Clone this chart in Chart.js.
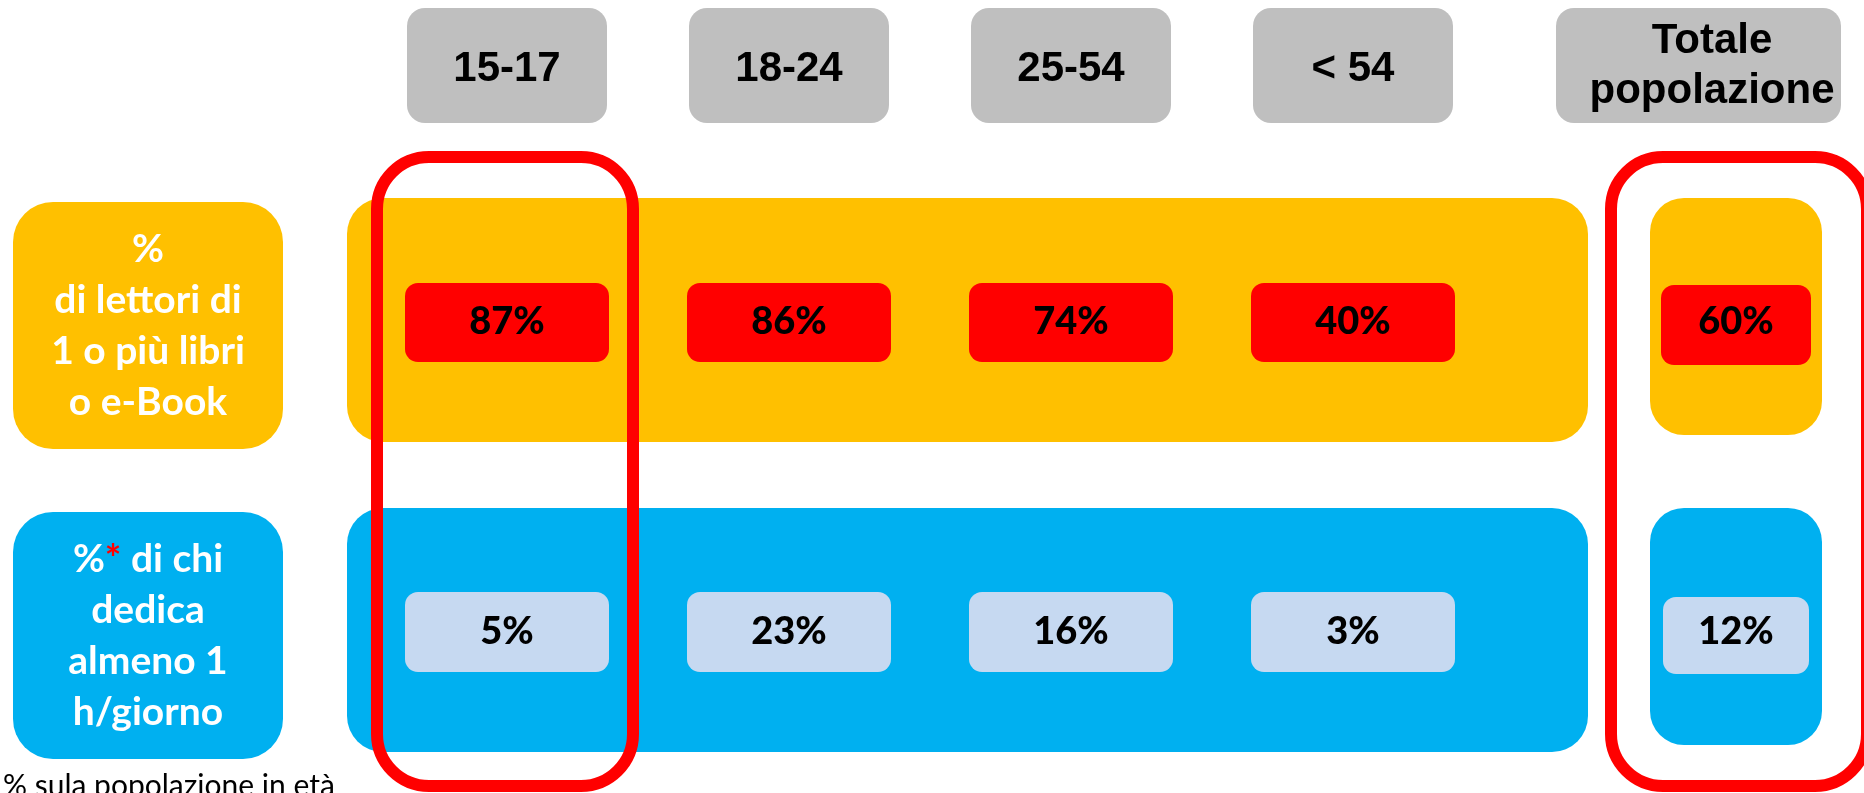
<!DOCTYPE html>
<html>
<head>
<meta charset="utf-8">
<script src="https://cdn.jsdelivr.net/npm/chart.js@4.4.1/dist/chart.umd.min.js"></script>
<style>
html, body { margin: 0; padding: 0; background: #ffffff; }
#wrap { position: relative; width: 1864px; height: 793px; overflow: hidden; }
#eta { position: absolute; left: 0; top: 0; }
#tot { position: absolute; left: 1540px; top: 0; }
</style>
</head>
<body>
<div id="wrap">
  <canvas id="eta" width="1600" height="793"></canvas>
  <canvas id="tot" width="324" height="793"></canvas>
</div>
<script>
// dati
var fasce = ['15-17', '18-24', '25-54', '< 54'];
var colonnaTotale = ['Totale popolazione'];
var righe = ['lettori', 'ore'];
var titoliRighe = [
  ['%', 'di lettori di', '1 o più libri', 'o e-Book'],
  ['%* di chi', 'dedica', 'almeno 1', 'h/giorno']
];
var lettori = [87, 86, 74, 40];
var ore = [5, 23, 16, 3];
var lettoriTotale = [60];
var oreTotale = [12];
var evidenziate = ['15-17', 'Totale popolazione'];
var nota = '% sula popolazione in età';

// stile
var coloriRighe = ['#FFC000', '#00B0F0'];
var coloriValori = ['#FF0000', '#C6D9F1'];
var grigio = '#BFBFBF';
var rosso = '#FF0000';
var fontTesto = 'Lato, "Open Sans", sans-serif';
var fontTitoli = '"Liberation Sans", Arial, sans-serif';

function rr(ctx, x, y, w, h, r) {
  ctx.beginPath();
  ctx.moveTo(x + r, y);
  ctx.arcTo(x + w, y, x + w, y + h, r);
  ctx.arcTo(x + w, y + h, x, y + h, r);
  ctx.arcTo(x, y + h, x, y, r);
  ctx.arcTo(x, y, x + w, y, r);
  ctx.closePath();
}

function punti(colonne, valori, riga) {
  return colonne.map(function(c, i) {
    return { x: c, y: riga, v: valori[i] };
  });
}

function cornice(ctx, cx, area) {
  ctx.strokeStyle = rosso;
  ctx.lineWidth = 12;
  rr(ctx, cx - 128, area.top - 8, 256, area.bottom - area.top + 9, 52);
  ctx.stroke();
}

// testo bianco con asterisco rosso
function rigaTitolo(ctx, testo, cx, y) {
  var parti = testo.split('*');
  if (parti.length === 1) {
    ctx.fillStyle = '#ffffff';
    ctx.textAlign = 'center';
    ctx.fillText(testo, cx, y);
    return;
  }
  var w0 = ctx.measureText(parti[0]).width;
  var w1 = ctx.measureText('*').width;
  var w2 = ctx.measureText(parti[1]).width;
  var x = cx - (w0 + w1 + w2) / 2;
  ctx.textAlign = 'left';
  ctx.fillStyle = '#ffffff';
  ctx.fillText(parti[0], x, y);
  ctx.fillStyle = rosso;
  ctx.fillText('*', x + w0, y);
  ctx.fillStyle = '#ffffff';
  ctx.fillText(parti[1], x + w0 + w1, y);
}

function valori(chart, larghezze, alti) {
  var ctx = chart.ctx;
  chart.data.datasets.forEach(function(ds, k) {
    var meta = chart.getDatasetMeta(k);
    meta.data.forEach(function(pt, i) {
      var w = larghezze[k];
      ctx.fillStyle = coloriValori[k];
      rr(ctx, pt.x - w / 2, pt.y + alti[k][0], w, alti[k][1], 13);
      ctx.fill();
      ctx.fillStyle = '#000000';
      ctx.textAlign = 'center';
      ctx.textBaseline = 'alphabetic';
      ctx.font = '900 38px ' + fontTesto;
      ctx.fillText(ds.data[i].v + '%', pt.x, pt.y + 14);
    });
  });
}

var pianoEta = {
  id: 'pianoEta',
  afterDraw: function(chart) {
    var ctx = chart.ctx, xs = chart.scales.x, ys = chart.scales.y, area = chart.chartArea;
    ctx.save();
    ctx.textBaseline = 'alphabetic';

    // intestazioni
    fasce.forEach(function(f, i) {
      var cx = xs.getPixelForValue(i);
      ctx.fillStyle = grigio;
      rr(ctx, cx - 100, 8, 200, 115, 18);
      ctx.fill();
      ctx.fillStyle = '#000000';
      ctx.textAlign = 'center';
      ctx.font = 'bold 42px ' + fontTitoli;
      ctx.fillText(f, cx, 81);
    });

    righe.forEach(function(r, k) {
      var cy = ys.getPixelForValue(k);
      // etichetta a sinistra
      ctx.fillStyle = coloriRighe[k];
      rr(ctx, 13, cy - 118, 270, 247, 40);
      ctx.fill();
      ctx.font = 'bold 39px ' + fontTesto;
      titoliRighe[k].forEach(function(t, j) {
        rigaTitolo(ctx, t, 148, cy + 18 + (j - 1.5) * 51);
      });
      // fascia
      ctx.fillStyle = coloriRighe[k];
      rr(ctx, area.left - 19, cy - 122, area.right - area.left + 113, 244, 36);
      ctx.fill();
    });

    valori(chart, [204, 204], [[-37, 79], [-38, 80]]);

    evidenziate.forEach(function(e) {
      var i = fasce.indexOf(e);
      if (i >= 0) cornice(ctx, xs.getPixelForValue(i) - 2, area);
    });

    ctx.fillStyle = '#000000';
    ctx.textAlign = 'left';
    ctx.font = '30px ' + fontTesto;
    ctx.fillText(nota, 3, 796);
    ctx.restore();
  }
};

var pianoTotale = {
  id: 'pianoTotale',
  afterDraw: function(chart) {
    var ctx = chart.ctx, xs = chart.scales.x, ys = chart.scales.y, area = chart.chartArea;
    var cx = xs.getPixelForValue(0);
    ctx.save();
    ctx.textBaseline = 'alphabetic';

    ctx.fillStyle = grigio;
    rr(ctx, cx - 180, 8, 285, 115, 18);
    ctx.fill();
    ctx.fillStyle = '#000000';
    ctx.textAlign = 'center';
    ctx.font = 'bold 42px ' + fontTitoli;
    colonnaTotale[0].split(' ').forEach(function(p, j) {
      ctx.fillText(p, cx - 24, 53 + j * 50);
    });

    righe.forEach(function(r, k) {
      var cy = ys.getPixelForValue(k);
      ctx.fillStyle = coloriRighe[k];
      rr(ctx, area.left, cy - 122, area.right - area.left, 237, 34);
      ctx.fill();
    });

    valori(chart, [150, 146], [[-35, 80], [-33, 77]]);

    evidenziate.forEach(function(e) {
      if (colonnaTotale.indexOf(e) >= 0) cornice(ctx, cx + 3, area);
    });
    ctx.restore();
  }
};

function opzioni(colonne, padSx, padDx) {
  return {
    responsive: false,
    animation: false,
    events: [],
    layout: { padding: { left: padSx, right: padDx, top: 165, bottom: 8 } },
    plugins: { legend: { display: false }, tooltip: { enabled: false } },
    elements: { point: { radius: 0, hoverRadius: 0 } },
    scales: {
      x: { type: 'category', labels: colonne, offset: true, display: false },
      y: { type: 'category', labels: righe, offset: true, display: false }
    }
  };
}

new Chart(document.getElementById('eta'), {
  type: 'scatter',
  data: {
    datasets: [
      { label: righe[0], data: punti(fasce, lettori, righe[0]) },
      { label: righe[1], data: punti(fasce, ore, righe[1]) }
    ]
  },
  options: opzioni(fasce, 366, 106),
  plugins: [pianoEta]
});

new Chart(document.getElementById('tot'), {
  type: 'scatter',
  data: {
    datasets: [
      { label: righe[0], data: punti(colonnaTotale, lettoriTotale, righe[0]) },
      { label: righe[1], data: punti(colonnaTotale, oreTotale, righe[1]) }
    ]
  },
  options: opzioni(colonnaTotale, 110, 42),
  plugins: [pianoTotale]
});
</script>
</body>
</html>
